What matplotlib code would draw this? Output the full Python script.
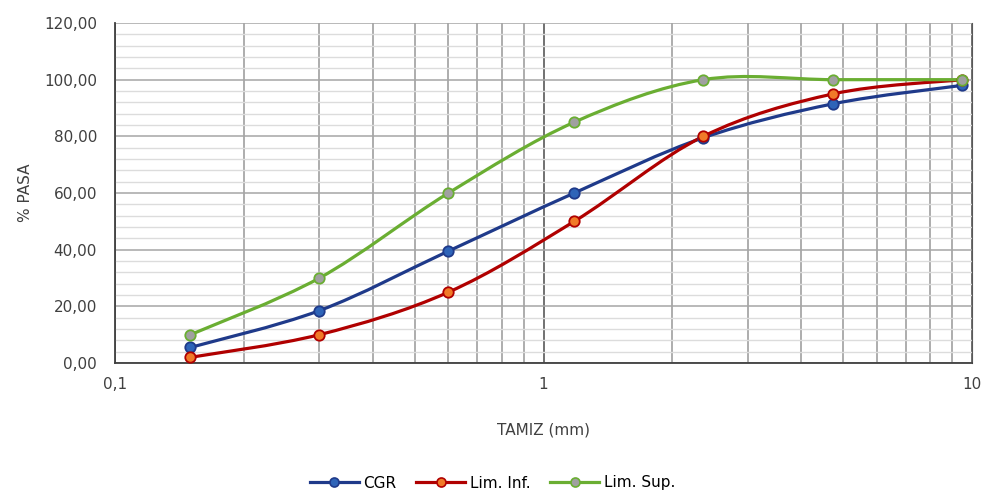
import numpy as np
import matplotlib.pyplot as plt
from matplotlib.path import Path
from matplotlib.patches import PathPatch
from matplotlib.lines import Line2D
from matplotlib.ticker import FixedLocator, FixedFormatter, MultipleLocator, FuncFormatter

plt.rcParams['font.family'] = ['DejaVu Sans']

# aberturas de tamiz (mm) y porcentaje que pasa
tamiz = [0.15, 0.30, 0.60, 1.18, 2.36, 4.75, 9.50]
cgr = [5.5, 18.5, 39.5, 60.0, 79.5, 91.5, 98.0]
lim_inf = [2.0, 10.0, 25.0, 50.0, 80.0, 95.0, 100.0]
lim_sup = [10.0, 30.0, 60.0, 85.0, 100.0, 100.0, 100.0]

series = [
    ('CGR', cgr, '#1F3A8A', '#2E64B8'),
    ('Lim. Inf.', lim_inf, '#B00000', '#F07A28'),
    ('Lim. Sup.', lim_sup, '#6AAE32', '#A0A0A0'),
]


def curva_suave(x, y):
    "path bezier tipo excel (catmull-rom) en espacio log x"
    lx = np.log10(x)
    y = np.asarray(y, float)
    n = len(lx)
    verts = [(x[0], y[0])]
    codes = [Path.MOVETO]
    for i in range(n - 1):
        a = max(i - 1, 0)
        b = min(i + 2, n - 1)
        c1x = lx[i] + (lx[i + 1] - lx[a]) / 6
        c1y = y[i] + (y[i + 1] - y[a]) / 6
        c2x = lx[i + 1] - (lx[b] - lx[i]) / 6
        c2y = y[i + 1] - (y[b] - y[i]) / 6
        verts += [(10 ** c1x, c1y), (10 ** c2x, c2y), (x[i + 1], y[i + 1])]
        codes += [Path.CURVE4] * 3
    return Path(verts, codes)


fig = plt.figure(figsize=(9.85, 4.93), dpi=100)
ax = fig.add_axes([115 / 985, 1 - 363 / 493, 857 / 985, 340 / 493])

ax.set_xscale('log')
ax.set_xlim(0.1, 10)
ax.set_ylim(0, 120)

# rejilla
ax.yaxis.set_major_locator(MultipleLocator(20))
ax.yaxis.set_minor_locator(MultipleLocator(4))
ax.yaxis.set_major_formatter(FuncFormatter(lambda v, p: ('%.2f' % v).replace('.', ',')))
ax.xaxis.set_major_locator(FixedLocator([0.1, 1, 10]))
ax.xaxis.set_major_formatter(FixedFormatter(['0,1', '1', '10']))
ax.xaxis.set_minor_locator(FixedLocator([k * 0.1 for k in range(2, 10)] + list(range(2, 10))))
ax.grid(True, axis='y', which='minor', color='#DCDCDC', lw=1.0)
ax.grid(True, axis='y', which='major', color='#A6A6A6', lw=1.1)
ax.grid(True, axis='x', which='minor', color='#A0A0A0', lw=1.2)
ax.grid(True, axis='x', which='major', color='#595959', lw=1.2)
ax.set_axisbelow(True)

ax.tick_params(which='both', length=0)
ax.tick_params(axis='y', pad=13, labelsize=11, labelcolor='#404040')
ax.tick_params(axis='x', pad=10, labelsize=11, labelcolor='#404040')

ax.spines['top'].set_visible(False)
ax.spines['right'].set_color('#595959')
ax.spines['left'].set_color('#404040')
ax.spines['bottom'].set_color('#404040')
ax.spines['left'].set_linewidth(1.3)
ax.spines['bottom'].set_linewidth(1.3)

handles = []
for nombre, vals, col, relleno in series:
    ax.add_patch(PathPatch(curva_suave(tamiz, vals), facecolor='none', edgecolor=col, lw=2.3, zorder=3))
    ax.plot(tamiz, vals, linestyle='none', marker='o', ms=7.5, mfc=relleno, mec=col, mew=1.3, zorder=4,
            clip_on=False)
    handles.append(Line2D([], [], color=col, lw=2.3, marker='o', ms=6.5, mfc=relleno, mec=col, mew=1.2))

ax.set_xlabel('TAMIZ (mm)', fontsize=11, color='#404040', labelpad=22)
ax.set_ylabel('% PASA', fontsize=11, color='#404040', labelpad=8)

fig.legend(handles, [s[0] for s in series], loc='center', bbox_to_anchor=(0.5, 1 - 483 / 493), ncol=3,
           frameon=False, fontsize=11, handlelength=3.2, columnspacing=1.3, handletextpad=0.3)

fig.savefig('out.png', dpi=100)
